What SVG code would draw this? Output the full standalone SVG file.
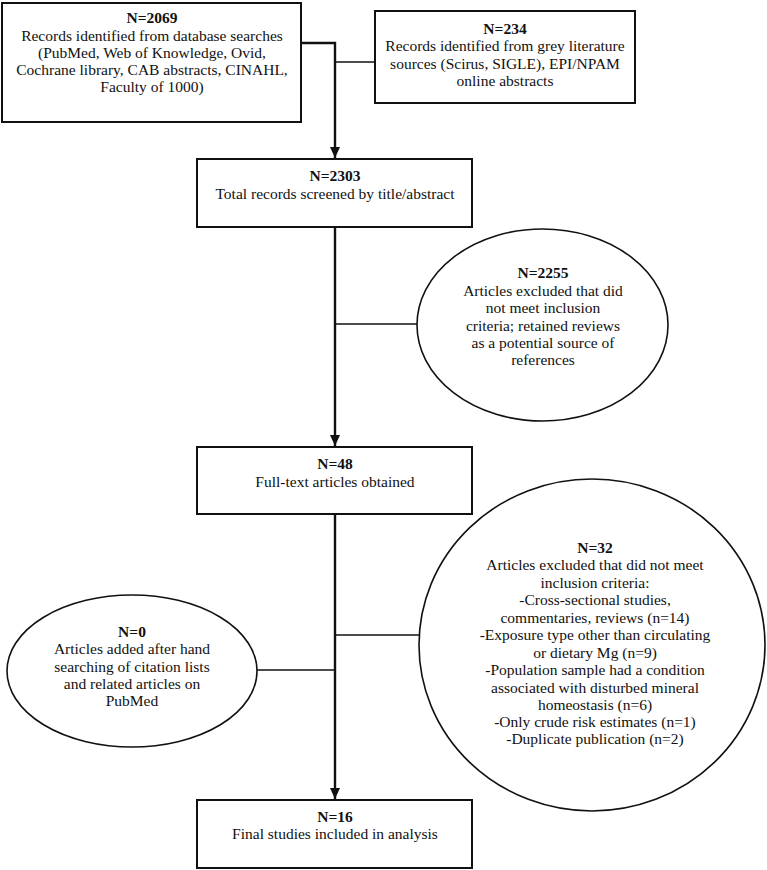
<svg xmlns="http://www.w3.org/2000/svg" width="767" height="870" viewBox="0 0 767 870">
<style>
.box{fill:#fff;stroke:#111;stroke-width:2}
.ell{fill:#fff;stroke:#111;stroke-width:1.6}
.ln{fill:none;stroke:#111;stroke-width:1.6}
.main{fill:none;stroke:#111;stroke-width:2.4}
text{font-family:"Liberation Serif","Times New Roman",serif;font-size:15.5px;fill:#111;text-anchor:middle;dominant-baseline:central}
.b{font-weight:bold}
</style>
<defs>
<marker id="arr" markerUnits="userSpaceOnUse" markerWidth="12" markerHeight="10" refX="11" refY="5" orient="auto">
<path d="M0,0 L11,5 L0,10 Z" fill="#111"/>
</marker>
</defs>
<g id="connectors">
<path class="main" d="M301,43 H335 V158" marker-end="url(#arr)"/>
<path class="ln" d="M375,62 H335"/>
<path class="main" d="M335,227 V446" marker-end="url(#arr)"/>
<path class="ln" d="M335,324 H418"/>
<path class="main" d="M335,514 V799" marker-end="url(#arr)"/>
<path class="ln" d="M335,635 H419"/>
<path class="ln" d="M257,670 H335"/>
</g>
<g id="n2069">
<rect class="box" x="2" y="3" width="299" height="119"/>
<text x="152" y="17" class="b">N=2069</text>
<text x="152" y="35">Records identified from database searches</text>
<text x="152" y="52">(PubMed, Web of Knowledge, Ovid,</text>
<text x="152" y="69">Cochrane library, CAB abstracts, CINAHL,</text>
<text x="152" y="86">Faculty of 1000)</text>
</g>
<g id="n234">
<rect class="box" x="375" y="11" width="260" height="92"/>
<text x="505" y="28" class="b">N=234</text>
<text x="505" y="45">Records identified from grey literature</text>
<text x="505" y="63">sources (Scirus, SIGLE), EPI/NPAM</text>
<text x="505" y="80">online abstracts</text>
</g>
<g id="n2303">
<rect class="box" x="197" y="159" width="275" height="68"/>
<text x="335" y="175" class="b">N=2303</text>
<text x="335" y="193">Total records screened by title/abstract</text>
</g>
<g id="n2255">
<ellipse class="ell" cx="542.5" cy="325" rx="125.5" ry="96"/>
<text x="543" y="272" class="b">N=2255</text>
<text x="543" y="290">Articles excluded that did</text>
<text x="543" y="307">not meet inclusion</text>
<text x="543" y="325">criteria; retained reviews</text>
<text x="543" y="342">as a potential source of</text>
<text x="543" y="359">references</text>
</g>
<g id="n48">
<rect class="box" x="197" y="447" width="275" height="67"/>
<text x="335" y="463" class="b">N=48</text>
<text x="335" y="481">Full-text articles obtained</text>
</g>
<g id="n32">
<ellipse class="ell" cx="592" cy="645" rx="173" ry="166"/>
<text x="595" y="547" class="b">N=32</text>
<text x="595" y="564">Articles excluded that did not meet</text>
<text x="595" y="582">inclusion criteria:</text>
<text x="595" y="599">-Cross-sectional studies,</text>
<text x="595" y="617">commentaries, reviews (n=14)</text>
<text x="595" y="634">-Exposure type other than circulating</text>
<text x="595" y="652">or dietary Mg (n=9)</text>
<text x="595" y="669">-Population sample had a condition</text>
<text x="595" y="687">associated with disturbed mineral</text>
<text x="595" y="704">homeostasis (n=6)</text>
<text x="595" y="721">-Only crude risk estimates (n=1)</text>
<text x="595" y="738">-Duplicate publication (n=2)</text>
</g>
<g id="n0">
<ellipse class="ell" cx="132" cy="671" rx="125" ry="76"/>
<text x="132" y="631" class="b">N=0</text>
<text x="132" y="648">Articles added after hand</text>
<text x="132" y="666">searching of citation lists</text>
<text x="132" y="683">and related articles on</text>
<text x="132" y="700">PubMed</text>
</g>
<g id="n16">
<rect class="box" x="197" y="800" width="275" height="68"/>
<text x="335" y="816" class="b">N=16</text>
<text x="335" y="833">Final studies included in analysis</text>
</g>
</svg>
